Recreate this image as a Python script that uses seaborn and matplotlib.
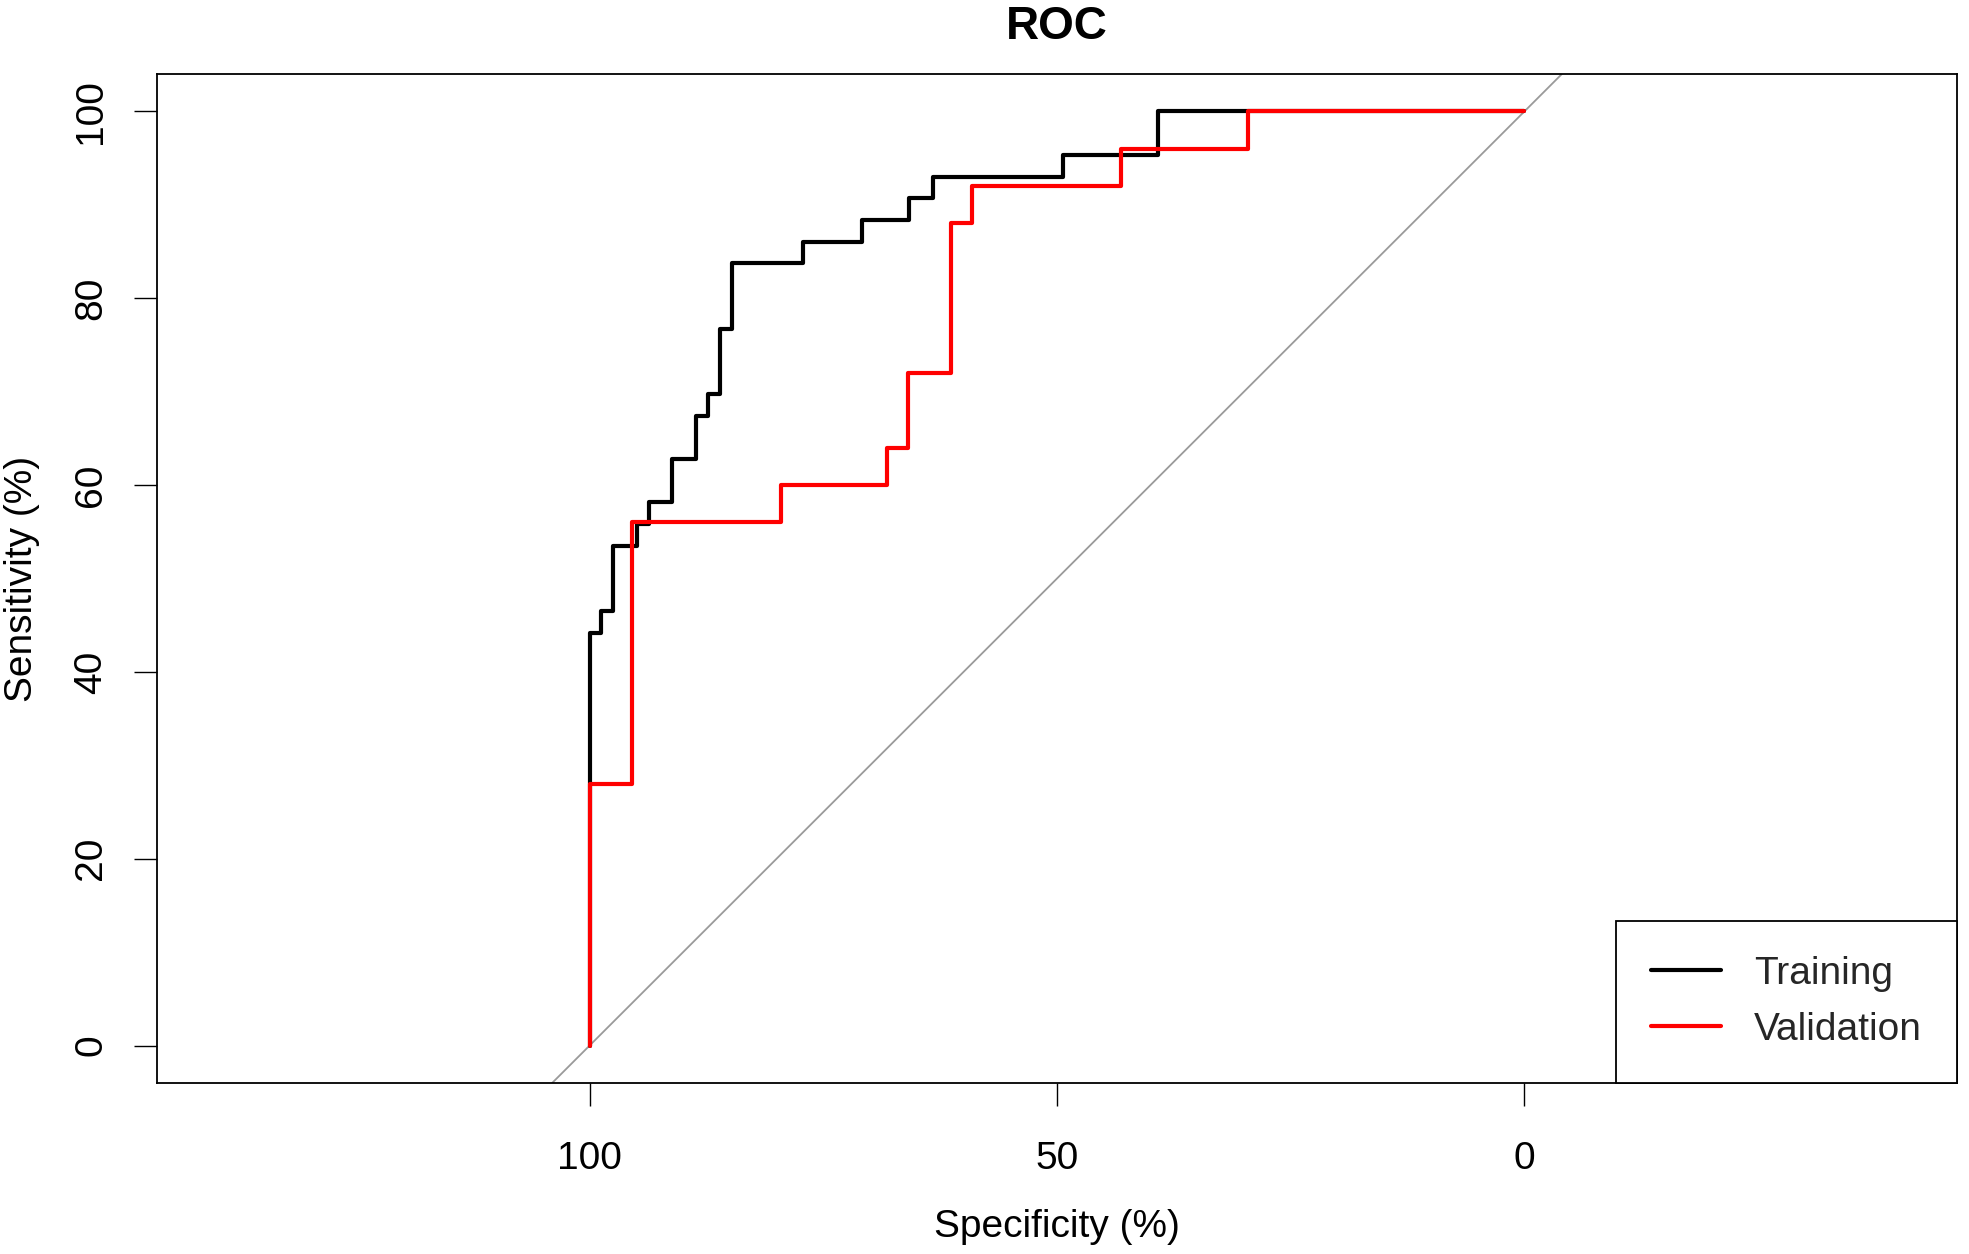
import matplotlib
matplotlib.use("Agg")
import matplotlib.pyplot as plt
import seaborn as sns
import pandas as pd

# ROC curve data (specificity %, sensitivity %), step vertices
train_spec = [100, 100, 98.73, 97.47, 94.94, 93.67, 91.14, 88.61, 87.34, 86.08,
              84.81, 77.22, 70.89, 65.82, 63.29, 49.37, 39.24, 0]
train_sens = [0, 44.19, 46.51, 53.49, 55.81, 58.14, 62.79, 67.44, 69.77, 76.74,
              83.72, 86.05, 88.37, 90.70, 93.02, 95.35, 100, 100]

valid_spec = [100, 100, 95.45, 79.55, 68.18, 65.91, 61.36, 59.09, 43.18, 29.55, 0]
valid_sens = [0, 28, 56, 60, 64, 72, 88, 92, 96, 100, 100]

series_names = ["Training", "Validation"]
series_colors = ["black", "#ff0000"]
x_ticks = [100, 50, 0]
y_ticks = [0, 20, 40, 60, 80, 100]

sns.set_theme(style="white")
plt.rcParams["font.family"] = ["Liberation Sans", "DejaVu Sans"]

W, H = 1969, 1254
fig = plt.figure(figsize=(W / 100, H / 100), dpi=100)
ax = fig.add_axes([157 / W, 1 - 1083 / H, 1800 / W, 1009 / H])

ax.axline((100, 0), (0, 100), color="#9a9a9a", lw=1.3, zorder=1)

df_t = pd.DataFrame({"spec": train_spec, "sens": train_sens})
df_v = pd.DataFrame({"spec": valid_spec, "sens": valid_sens})
sns.lineplot(data=df_t, x="spec", y="sens", sort=False, estimator=None,
             drawstyle="steps-post", color=series_colors[0], lw=3.0,
             ax=ax, label=series_names[0], zorder=2)
sns.lineplot(data=df_v, x="spec", y="sens", sort=False, estimator=None,
             drawstyle="steps-post", color=series_colors[1], lw=3.0,
             ax=ax, label=series_names[1], zorder=3)

ax.set_xlim(146.26, -46.26)
ax.set_ylim(-4, 104)
ax.set_xticks(x_ticks)
ax.set_xticklabels([str(t) for t in x_ticks])
ax.set_yticks(y_ticks)
ax.set_yticklabels([str(t) for t in y_ticks], rotation=90, va="center")

for s in ax.spines.values():
    s.set_visible(True)
    s.set_color("black")
    s.set_linewidth(1.3)

ax.tick_params(axis="both", which="major", direction="out", length=16.5,
               width=1.0, color="black", labelsize=28, labelcolor="black",
               bottom=True, left=True)
ax.tick_params(axis="x", pad=25)
ax.tick_params(axis="y", pad=18)

ax.set_xlabel("Specificity (%)", fontsize=28, labelpad=23, color="black")
ax.set_ylabel("Sensitivity (%)", fontsize=28, labelpad=24, color="black")
ax.set_title("ROC", fontsize=33, fontweight="bold", pad=25, color="black")

leg = ax.legend(loc="lower right", fontsize=28, frameon=True, fancybox=False,
                borderaxespad=0, handlelength=1.8, handletextpad=0.85,
                borderpad=0.9, labelspacing=0.52)
leg.get_frame().set_edgecolor("black")
leg.get_frame().set_linewidth(1.3)
leg.get_frame().set_alpha(1)
for h in leg.get_lines():
    h.set_linewidth(3.0)

ax.grid(False)
fig.savefig("out.png", dpi=100, facecolor="white")
